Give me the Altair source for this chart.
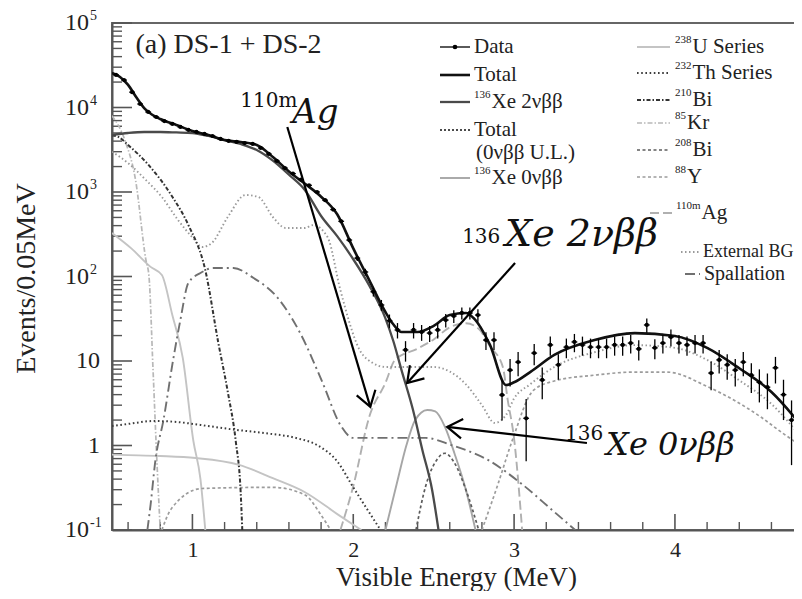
import altair as alt
import numpy as np
import pandas as pd

# ---------------- values ----------------
bin_centers = np.round(np.arange(0.525, 4.80, 0.05), 3)   # 0.05 MeV bins
data_counts = [24300, 21100, 15200, 11000, 8850, 7720, 6920, 6380, 5880, 5420,
               5130, 4860, 4600, 4240, 4020, 3910, 3800, 3700, 3320, 2820,
               2330, 1920, 1650, 1400, 1200, 1000, 800, 620, 450, 270,
               165, 113, 66, 46, 30,
               23.3, 13.5, 23.3, 22.0, 21.4, 23.3, 30.5, 34.1, 37.0, 37.0,
               35.0, 17.7, 17.7, 3.96, 7.8, 9.7, 2.1, 12.4, 5.96, 15.5,
               9.0, 14.6, 16.8, 15.5, 14.6, 14.6, 14.6, 15.5, 15.5, 16.3,
               13.9, 26.7, 14.3, 16.3, 19.2, 16.3, 15.5, 16.3, 16.3, 7.2,
               10.3, 9.0, 7.8, 9.7, 6.8, 5.6, 4.9, 8.3, 4.0, 2.0, 2.0]

total_E = [0.5, 0.55, 0.6, 0.65, 0.7, 0.75, 0.8, 0.9, 1.0, 1.1, 1.2, 1.3, 1.4, 1.5, 1.6,
           1.7, 1.8, 1.9, 2.0, 2.1, 2.2, 2.25, 2.3, 2.4, 2.5, 2.6, 2.7, 2.75, 2.85, 2.95,
           3.0, 3.1, 3.25, 3.5, 3.75, 4.0, 4.2, 4.4, 4.6, 4.8]
total_v = [25600, 23000, 18500, 13300, 9860, 8200, 7310, 6210, 5270, 4730, 4120, 3910, 3600,
           2600, 1750, 1250, 880, 545, 215, 90, 38, 27, 22, 22, 26, 35, 37, 32, 15.5, 5.2,
           5.6, 7.4, 11.8, 17.7, 21.4, 19.8, 14.3, 8.2, 4.3, 1.6]

xe2n_E = [0.5, 0.6, 0.7, 0.8, 0.9, 1.0, 1.1, 1.2, 1.3, 1.4, 1.5, 1.6, 1.7, 1.8, 1.9, 2.0,
          2.1, 2.2, 2.25, 2.3, 2.37, 2.43, 2.49, 2.53]
xe2n_v = [4730, 4990, 5130, 5130, 5070, 4990, 4600, 4120, 3700, 3140, 2350, 1600, 1050, 520,
          300, 160, 78, 32, 17, 7.8, 2.7, 0.88, 0.3, 0.1]

xe0n_E = [2.2, 2.27, 2.33, 2.385, 2.46, 2.51, 2.57, 2.63, 2.7, 2.76]
xe0n_v = [0.1, 0.35, 1.0, 2.0, 2.63, 2.53, 1.66, 0.8, 0.3, 0.1]

u238_low_E = [0.5, 0.62, 0.74, 0.81, 0.875, 0.94, 1.006, 1.05, 1.08]
u238_low_v = [327, 215, 130, 104, 35, 10.9, 1.13, 0.4, 0.1]
u238_E = [0.5, 0.6, 0.8, 1.02, 1.29, 1.5, 1.7, 1.91, 2.05]
u238_v = [0.78, 0.77, 0.75, 0.71, 0.59, 0.41, 0.28, 0.15, 0.1]

th232_E = [0.5, 0.6, 0.76, 0.9, 1.05, 1.25, 1.45, 1.65, 1.78, 1.9, 2.0, 2.12, 2.17]
th232_v = [1.7, 1.8, 1.95, 1.9, 1.75, 1.55, 1.4, 1.22, 1.0, 0.65, 0.32, 0.14, 0.1]

bi210_E = [0.5, 0.54, 0.6, 0.727, 0.876, 0.975, 1.08, 1.16, 1.22, 1.27, 1.30, 1.31]
bi210_v = [4700, 4480, 3600, 2090, 873, 406, 119, 16.8, 4.3, 1.1, 0.28, 0.1]

kr85_E = [0.5, 0.58, 0.646, 0.71, 0.73, 0.755, 0.78, 0.80]
kr85_v = [8000, 4100, 1400, 160, 100, 8, 0.6, 0.1]

bi208_E = [2.39, 2.45, 2.52, 2.57, 2.63, 2.7, 2.78]
bi208_v = [0.1, 0.33, 0.68, 0.81, 0.62, 0.3, 0.1]

y88_low_E = [0.81, 0.87, 1.06, 1.5, 1.7, 1.8, 1.86]
y88_low_v = [0.1, 0.18, 0.31, 0.32, 0.26, 0.15, 0.1]
y88_E = [2.8, 2.9, 2.99, 3.12, 3.25, 3.5, 3.75, 3.95, 4.2, 4.36, 4.53, 4.67, 4.8]
y88_v = [0.1, 0.35, 1.17, 4.5, 5.8, 6.8, 7.4, 7.4, 5.0, 3.5, 2.2, 1.4, 0.95]

ag110m_E = [1.92, 2.0, 2.1, 2.2, 2.26, 2.4, 2.5, 2.6, 2.7, 2.78, 2.85, 2.93, 2.96, 3.0, 3.05]
ag110m_v = [0.1, 0.33, 2.2, 5.5, 10.3, 14, 18, 25, 28, 24, 15, 8.5, 3.5, 1.2, 0.1]

ext_E = [0.5, 0.6, 0.71, 0.81, 0.91, 1.0, 1.06, 1.12, 1.22, 1.33, 1.41, 1.5, 1.58, 1.7,
         1.75, 1.84, 1.92, 2.04, 2.12, 2.2, 2.35, 2.5, 2.6, 2.7, 2.8, 2.88, 2.95, 3.0,
         3.1, 3.25, 3.5, 3.75, 4.0, 4.2, 4.4, 4.6, 4.8]
ext_v = [3000, 2200, 1390, 873, 467, 290, 223, 249, 506, 921, 873, 506, 375, 375,
         406, 293, 69, 13.5, 9.5, 8.5, 8.5, 8.5, 7.5, 5.3, 3.0, 1.85, 2.3, 3.6,
         5.3, 8.5, 12.7, 15.4, 14.3, 10.3, 5.9, 3.1, 1.15]

spall_E = [0.72, 0.74, 0.77, 0.82, 0.88, 0.925, 0.975, 1.05, 1.13, 1.255, 1.38, 1.53, 1.67,
           1.81, 1.92, 2.0, 2.45, 2.61, 2.84, 3.04, 3.24, 3.38]
spall_v = [0.1, 0.2, 0.67, 2.0, 10.3, 30.5, 84, 110, 126, 126, 96, 56, 21.4,
           5.5, 1.75, 1.23, 1.23, 1.01, 0.67, 0.36, 0.17, 0.1]

x_major_ticks = [1, 2, 3, 4]
x_minor_ticks = [0.6, 0.8, 1.2, 1.4, 1.6, 1.8, 2.2, 2.4, 2.6, 2.8, 3.2, 3.4, 3.6, 3.8,
                 4.2, 4.4, 4.6]
y_major_ticks = [0.1, 1, 10, 100, 1000, 10000, 100000]
y_minor_ticks = [m * 10.0 ** k for k in range(-1, 5) for m in range(2, 10)]
y_label_base = ["10", "1", "10", "10", "10", "10", "10"]
y_label_exp = ["-1", "", "", "2", "3", "4", "5"]

# annotation arrows (data coordinates: tail -> head)
arrow_E = [1.590, 3.006, 3.453]
arrow_v = [5880, 144.5, 1.07]
arrow_E2 = [2.106, 2.335, 2.584]
arrow_v2 = [2.86, 5.5, 1.66]
arrow_angle = [73.5, 132.0, 186.5]

# ---------------- chart ----------------
FONT = "Liberation Serif, Times New Roman, Times, serif"
MATH = "DejaVu Serif, serif"
W, H = 690, 507
xs = alt.Scale(domain=[0.5, 4.79], nice=False, zero=False)
ys = alt.Scale(type="log", domain=[0.1, 100000], nice=False)

x_axis = alt.Axis(values=x_major_ticks, tickSize=0, labelPadding=9, labelFontSize=22,
                  labelFont=FONT, labelColor="#222222", domainColor="#555555", domainWidth=2,
                  grid=False, labelFlush=False, title="Visible Energy (MeV)", titleFont=FONT,
                  titleFontSize=27, titleFontWeight="normal", titleColor="#222222",
                  titleX=344, titleY=55, titleAlign="center", titleBaseline="alphabetic")
y_axis = alt.Axis(values=y_major_ticks, tickSize=0, labels=False, domainColor="#555555",
                  domainWidth=2, grid=False,
                  title="Events/0.05MeV", titleFont=FONT, titleFontSize=28,
                  titleFontWeight="normal", titleColor="#222222", titleAngle=270,
                  titleX=-86, titleY=255, titleAlign="center", titleBaseline="middle")


def X(f):
    return alt.X(f, type="quantitative", scale=xs, axis=x_axis)


def Y(f):
    return alt.Y(f, type="quantitative", scale=ys, axis=y_axis)


def frame(E, v, part="a"):
    return pd.DataFrame({"E": E, "v": v, "part": part})


series = {
    "total": dict(df=frame(total_E, total_v), color="#111111", dash=None, width=2.6),
    "xe2n": dict(df=frame(xe2n_E, xe2n_v), color="#4a4a4a", dash=None, width=2.3),
    "totul": dict(df=frame(total_E, total_v), color="#111111", dash=[2, 2], width=1.3),
    "xe0n": dict(df=frame(xe0n_E, xe0n_v), color="#a6a6a6", dash=None, width=1.9),
    "u238": dict(df=pd.concat([frame(u238_low_E, u238_low_v, "a"), frame(u238_E, u238_v, "b")]),
                 color="#c4c4c4", dash=None, width=1.9),
    "th232": dict(df=frame(th232_E, th232_v), color="#3c3c3c", dash=[1.6, 2.6], width=2.0),
    "bi210": dict(df=frame(bi210_E, bi210_v), color="#333333", dash=[4, 2, 1.5, 2], width=2.0),
    "kr85": dict(df=frame(kr85_E, kr85_v), color="#b8b8b8", dash=[5, 2, 1.5, 2], width=1.7),
    "bi208": dict(df=frame(bi208_E, bi208_v), color="#5c5c5c", dash=[3, 2.5], width=1.7),
    "y88": dict(df=pd.concat([frame(y88_low_E, y88_low_v, "a"), frame(y88_E, y88_v, "b")]),
                color="#9c9c9c", dash=[3, 2.5], width=1.7),
    "ag110m": dict(df=frame(ag110m_E, ag110m_v), color="#b0b0b0", dash=[9, 4], width=1.9),
    "ext": dict(df=frame(ext_E, ext_v), color="#9a9a9a", dash=[1.5, 2.5], width=1.9),
    "spall": dict(df=frame(spall_E, spall_v), color="#707070", dash=[10, 4, 2, 4], width=1.9),
}

layers = []

# axes carrier
layers.append(alt.Chart(series["total"]["df"]).mark_line(opacity=0).encode(x=X("E"), y=Y("v")))

# inside ticks
layers.append(alt.Chart(pd.DataFrame({"t": y_major_ticks})).mark_rule(color="#555555", strokeWidth=1.6)
              .encode(y=Y("t"), x=alt.value(0), x2=alt.value(20)))
layers.append(alt.Chart(pd.DataFrame({"t": y_minor_ticks})).mark_rule(color="#555555", strokeWidth=1.4)
              .encode(y=Y("t"), x=alt.value(0), x2=alt.value(10)))
layers.append(alt.Chart(pd.DataFrame({"t": x_major_ticks})).mark_rule(color="#555555", strokeWidth=1.6)
              .encode(x=X("t"), y=alt.value(H), y2=alt.value(H - 16)))
layers.append(alt.Chart(pd.DataFrame({"t": x_minor_ticks})).mark_rule(color="#555555", strokeWidth=1.4)
              .encode(x=X("t"), y=alt.value(H), y2=alt.value(H - 8)))

# y tick labels with superscript exponents
ylab = pd.DataFrame({"t": y_major_ticks, "base": y_label_base, "exp": y_label_exp})
ylab["bx"] = np.where(ylab["exp"] == "", -12, -23)
layers.append(alt.Chart(ylab).mark_text(font=FONT, fontSize=24, color="#222222", align="right",
                                        baseline="middle")
              .encode(y=Y("t"), x=alt.X("bx:Q", scale=None), text="base:N"))
layers.append(alt.Chart(ylab).mark_text(font=FONT, fontSize=14, color="#222222", align="left",
                                        baseline="middle", dy=-7, dx=-22)
              .encode(y=Y("t"), x=alt.value(0), text="exp:N"))

# component curves
order = ["u238", "kr85", "y88", "ag110m", "ext", "xe0n", "bi208", "spall", "th232", "bi210",
         "xe2n", "totul", "total"]
for key in order:
    s = series[key]
    kw = dict(color=s["color"], strokeWidth=s["width"], clip=True, interpolate="monotone")
    if s["dash"]:
        kw["strokeDash"] = s["dash"]
    layers.append(alt.Chart(s["df"]).mark_line(**kw).encode(x=X("E"), y=Y("v"), detail="part:N"))

# data points with error bars
ddf = pd.DataFrame({"E": bin_centers, "v": data_counts})
ddf["lo"] = np.clip(ddf["v"] - np.sqrt(ddf["v"]), 0.05, None)
ddf["hi"] = ddf["v"] + np.sqrt(ddf["v"])
ddf["El"] = ddf["E"] - 0.018
ddf["Eh"] = ddf["E"] + 0.018
layers.append(alt.Chart(ddf).mark_rule(color="#000000", strokeWidth=1.3, clip=True)
              .encode(x=X("E"), y=Y("lo"), y2="hi:Q"))
layers.append(alt.Chart(ddf).mark_rule(color="#000000", strokeWidth=1.3, clip=True)
              .encode(x=X("El"), x2="Eh:Q", y=Y("v")))
layers.append(alt.Chart(ddf).mark_circle(color="#000000", size=18, opacity=1, clip=True)
              .encode(x=X("E"), y=Y("v")))

# arrows
adf = pd.DataFrame({"E": arrow_E, "v": arrow_v, "E2": arrow_E2, "v2": arrow_v2, "ang": arrow_angle})
layers.append(alt.Chart(adf).mark_rule(color="#000000", strokeWidth=2.2)
              .encode(x=X("E"), y=Y("v"), x2="E2:Q", y2="v2:Q"))
layers.append(alt.Chart(adf).mark_point(shape="M-1,-0.65L0,0L-1,0.65", filled=False, color="#000000",
                                        strokeWidth=2.2, size=900, opacity=1)
              .encode(x=X("E2"), y=Y("v2"), angle=alt.Angle("ang:Q", scale=None)))

# annotation texts (data coordinates)
texts = [
    ("(a) DS-1 + DS-2", 0.646, 44200, FONT, 28, "normal", "#222222"),
    ("110m", 1.298, 10100, MATH, 20, "normal", "#111111"),
    ("Ag", 1.621, 6560, MATH, 34, "italic", "#111111"),
    ("136", 2.677, 249, MATH, 20, "normal", "#111111"),
    ("Xe 2νββ", 2.944, 230, MATH, 38, "italic", "#111111"),
    ("136", 3.317, 1.16, MATH, 20, "normal", "#111111"),
    ("Xe 0νββ", 3.572, 0.773, MATH, 32, "italic", "#111111"),
]
for t, e, v, fnt, fs, sty, col in texts:
    layers.append(alt.Chart(pd.DataFrame({"E": [e], "v": [v]})).mark_text(
        text=t, font=fnt, fontSize=fs, fontStyle=sty, color=col, align="left",
        baseline="alphabetic").encode(x=X("E"), y=Y("v")))

# legend (pixel layout, relative to the plot area)
OX, OY = 112, 23
legend_items = [
    # key, superscript, text, sample x1, x2, text x, row y, font size
    ("data", "", "Data", 440, 470, 474, 47, 21),
    ("total", "", "Total", 440, 470, 474, 75, 21),
    ("xe2n", "136", "Xe 2νββ", 440, 470, 474, 102, 21),
    ("totul", "", "Total", 440, 470, 474, 130, 21),
    (None, "", "(0νββ U.L.)", 0, 0, 476, 153, 21),
    ("xe0n", "136", "Xe 0νββ", 440, 470, 474, 178, 21),
    ("u238", "238", "U Series", 637, 670, 675, 47, 21),
    ("th232", "232", "Th Series", 637, 670, 675, 73, 21),
    ("bi210", "210", "Bi", 637, 670, 675, 100, 21),
    ("kr85", "85", "Kr", 637, 670, 675, 123, 21),
    ("bi208", "208", "Bi", 637, 670, 675, 150, 21),
    ("y88", "88", "Y", 637, 670, 675, 177, 21),
    ("ag110m", "110m", "Ag", 650, 673, 676, 213, 21),
    ("ext", "", "External BG", 681, 700, 703, 252, 18),
    ("spall", "", "Spallation", 685, 700, 704, 274, 20),
]
one = pd.DataFrame({"a": [0]})
for key, sup, label, x1, x2, tx, y, fs in legend_items:
    sup_w = 0
    if sup:
        sup_w = 5.5 * sum(c.isdigit() for c in sup) + (8 if "m" in sup else 0) + 1
        layers.append(alt.Chart(one).mark_text(
            text=sup, font=FONT, fontSize=11, color="#222222", align="left", baseline="middle"
        ).encode(x=alt.value(tx - OX), y=alt.value(y - OY - 7)))
    layers.append(alt.Chart(one).mark_text(
        text=label, font=FONT, fontSize=fs, color="#222222", align="left", baseline="middle"
    ).encode(x=alt.value(tx + sup_w - OX), y=alt.value(y - OY)))
    if key is None:
        continue
    if key == "data":
        layers.append(alt.Chart(one).mark_rule(color="#000000", strokeWidth=1.3)
                      .encode(x=alt.value(x1 - OX), x2=alt.value(x2 - OX), y=alt.value(y - OY)))
        layers.append(alt.Chart(one).mark_circle(color="#000000", size=22, opacity=1)
                      .encode(x=alt.value((x1 + x2) / 2 - OX), y=alt.value(y - OY)))
        continue
    s = series[key]
    kw = dict(color=s["color"], strokeWidth=s["width"])
    if s["dash"]:
        kw["strokeDash"] = s["dash"]
    layers.append(alt.Chart(one).mark_rule(**kw)
                  .encode(x=alt.value(x1 - OX), x2=alt.value(x2 - OX), y=alt.value(y - OY)))

chart = alt.layer(*layers).properties(
    width=W, height=H,
    padding={"left": 104, "top": 15, "right": -8, "bottom": 61},
    autosize=alt.AutoSizeParams(type="none"),
    background="white",
).configure_view(stroke="#666666", strokeWidth=2)

chart.save("out.html", embed_options={"renderer": "svg", "actions": False})
